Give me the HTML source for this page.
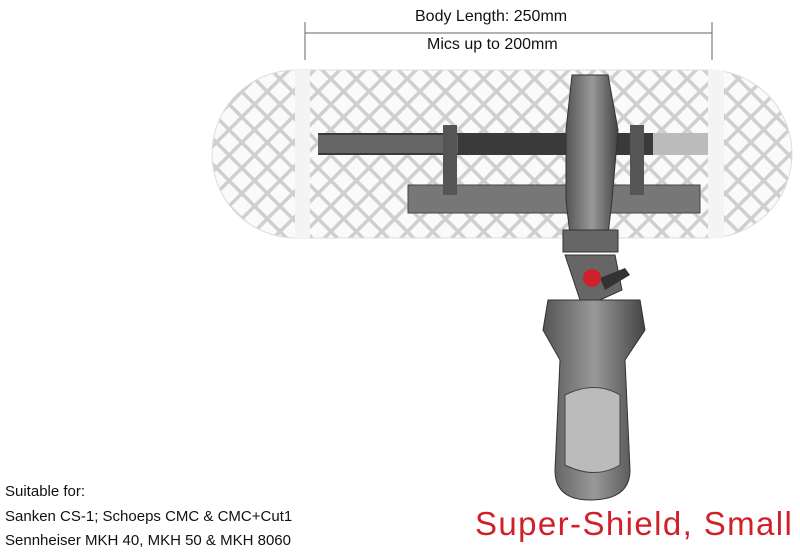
<!DOCTYPE html>
<html><head><meta charset="utf-8"><style>
html,body{margin:0;padding:0;background:#fff;width:800px;height:555px;overflow:hidden;font-family:"Liberation Sans",sans-serif}
.t{position:absolute;color:#111;font-size:15px;white-space:nowrap}
</style></head><body>
<svg width="800" height="555" style="position:absolute;left:0;top:0">
<defs>
<pattern id="mesh" width="18" height="18" patternUnits="userSpaceOnUse" patternTransform="rotate(45)">
<rect width="18" height="18" fill="#fafafa"/>
<rect x="0" y="0" width="18" height="3.5" fill="#cfcfcf"/>
<rect x="0" y="0" width="3.5" height="18" fill="#cfcfcf"/>
</pattern>
<linearGradient id="g1" x1="0" x2="1"><stop offset="0" stop-color="#555"/><stop offset=".5" stop-color="#999"/><stop offset="1" stop-color="#444"/></linearGradient>
</defs>
<line x1="305" y1="33" x2="712" y2="33" stroke="#666" stroke-width="1"/>
<line x1="305" y1="22" x2="305" y2="60" stroke="#666"/>
<line x1="712" y1="22" x2="712" y2="60" stroke="#666"/>
<rect x="212" y="70" width="580" height="168" rx="84" fill="url(#mesh)" stroke="#ddd"/>
<rect x="295" y="70" width="15" height="168" fill="#f4f4f4"/>
<rect x="708" y="70" width="16" height="168" fill="#f4f4f4"/>
<rect x="318" y="133" width="335" height="22" fill="#3a3a3a"/>
<rect x="318" y="135" width="140" height="18" fill="#666"/>
<rect x="653" y="133" width="55" height="22" fill="#bbb"/>
<rect x="408" y="185" width="292" height="28" fill="#777" stroke="#444"/>
<rect x="443" y="125" width="14" height="70" fill="#555"/>
<rect x="630" y="125" width="14" height="70" fill="#555"/>
<path d="M572 75 L608 75 L618 130 L612 200 L608 235 L570 235 L566 200 L566 130 Z" fill="url(#g1)" stroke="#333"/>
<rect x="563" y="230" width="55" height="22" fill="#666" stroke="#333"/>
<path d="M565 255 L615 255 L622 290 L600 300 L580 300 Z" fill="#666" stroke="#333"/>
<path d="M600 278 L625 268 L630 275 L605 290 Z" fill="#333"/>
<circle cx="592" cy="278" r="9" fill="#d0202a"/>
<path d="M548 300 L640 300 L645 330 L625 360 L630 470 Q630 500 590 500 Q555 500 555 470 L560 360 L543 330 Z" fill="url(#g1)" stroke="#333"/>
<path d="M565 395 Q595 380 620 395 L620 465 Q595 480 565 465 Z" fill="#bbb" stroke="#444"/>
</svg>
<div class="t" style="left:415px;top:8px;font-size:16px">Body Length: 250mm</div>
<div class="t" style="left:427px;top:36px;font-size:16px">Mics up to 200mm</div>
<div class="t" style="left:5px;top:483px">Suitable for:</div>
<div class="t" style="left:5px;top:508px">Sanken CS-1; Schoeps CMC &amp; CMC+Cut1</div>
<div class="t" style="left:5px;top:532px">Sennheiser MKH 40, MKH 50 &amp; MKH 8060</div>
<div class="t" style="left:475px;top:505px;font-size:33px;letter-spacing:1.4px;color:#d0202a">Super-Shield, Small</div>
</body></html>
